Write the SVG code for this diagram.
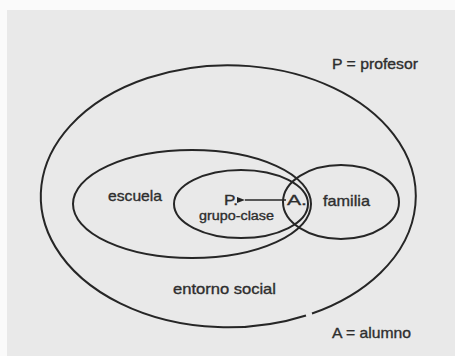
<svg xmlns="http://www.w3.org/2000/svg" width="455" height="356" viewBox="0 0 455 356">
<style>
.e{fill:none;stroke:#262626;stroke-width:2}
text{font-family:"Liberation Sans",Arial,sans-serif;font-size:15px;fill:#2e2e2e;stroke:#2e2e2e;stroke-width:0.35}
.s{font-size:12.5px}
</style>
<defs>
<marker id="ah" markerWidth="8" markerHeight="6" refX="0" refY="3" orient="auto" markerUnits="userSpaceOnUse">
<path d="M8,0 L0,3 L8,6 z" fill="#262626"/>
</marker>
</defs>
<rect width="455" height="356" fill="#fafafa"/>
<rect x="7" y="10" width="448" height="346" fill="#e9e9e9"/>
<g id="entorno-social">
<path class="e" d="M306,315.5 A187.5,131 0 1 1 312,313.5"/>
<text x="173" y="293.5" font-size="13.5" textLength="103" lengthAdjust="spacingAndGlyphs">entorno social</text>
</g>
<g id="escuela">
<ellipse class="e" cx="192" cy="204" rx="119" ry="54"/>
<text x="108" y="201" textLength="54" lengthAdjust="spacingAndGlyphs">escuela</text>
</g>
<g id="grupo-clase">
<ellipse class="e" cx="241" cy="204" rx="67" ry="34"/>
<text class="s" x="199" y="219.5" textLength="75" lengthAdjust="spacingAndGlyphs">grupo-clase</text>
</g>
<g id="familia">
<ellipse class="e" cx="341" cy="202" rx="58" ry="37"/>
<text x="323" y="205.5" textLength="47" lengthAdjust="spacingAndGlyphs">familia</text>
</g>
<g id="P">
<text x="224" y="205" textLength="14" lengthAdjust="spacingAndGlyphs">P.</text>
</g>
<g id="A">
<text x="287" y="205" textLength="20" lengthAdjust="spacingAndGlyphs">A.</text>
</g>
<g id="connectors">
<line x1="286" y1="200" x2="245" y2="200" stroke="#262626" stroke-width="1.5" marker-end="url(#ah)"/>
</g>
<g id="legend">
<text x="332" y="69" textLength="86" lengthAdjust="spacingAndGlyphs">P = profesor</text>
<text x="332" y="338" textLength="79" lengthAdjust="spacingAndGlyphs">A = alumno</text>
</g>
</svg>
